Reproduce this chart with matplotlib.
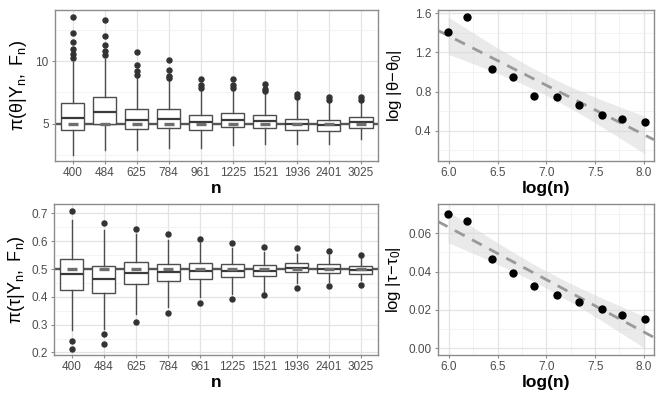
import numpy as np
import matplotlib
matplotlib.use("Agg")
from matplotlib import pyplot as plt, rcParams

params = {
    'font.family': ['Liberation Sans', 'DejaVu Sans'],
    'mathtext.fontset': 'custom',
    'mathtext.rm': 'Liberation Sans',
    'mathtext.it': 'Liberation Sans:italic',
    'mathtext.bf': 'Liberation Sans:bold',
}
rcParams.update(params)

# sample sizes
n_labels = ['400', '484', '625', '784', '961', '1225', '1521', '1936', '2401', '3025']
log_n = [5.99, 6.18, 6.44, 6.66, 6.87, 7.11, 7.33, 7.57, 7.78, 8.01]

# theta boxplots
theta0 = 5.0
th_q1 = [4.50, 5.00, 4.58, 4.71, 4.50, 4.74, 4.68, 4.50, 4.47, 4.71]
th_med = [5.50, 5.95, 5.34, 5.40, 5.13, 5.34, 5.24, 4.97, 4.89, 5.19]
th_q3 = [6.69, 7.14, 6.22, 6.16, 5.74, 5.90, 5.74, 5.42, 5.34, 5.56]
th_lo = [2.51, 2.90, 2.90, 3.10, 3.10, 3.30, 3.40, 3.39, 3.39, 3.84]
th_hi = [9.92, 10.19, 8.73, 8.47, 7.72, 7.67, 7.41, 6.93, 6.72, 6.72]
th_out = [[10.24, 10.58, 10.98, 11.51, 12.25, 13.49],
          [10.45, 10.77, 11.30, 11.96, 13.23],
          [8.86, 9.21, 9.71, 10.71],
          [8.68, 8.84, 9.26, 10.05],
          [7.88, 8.07, 8.60],
          [7.88, 8.07, 8.55],
          [7.62, 7.80, 8.20],
          [7.14, 7.41],
          [6.88, 7.14],
          [6.88, 7.14]]

# tau boxplots
tau0 = 0.5
ta_q1 = [0.423, 0.415, 0.448, 0.457, 0.466, 0.470, 0.474, 0.488, 0.487, 0.484]
ta_med = [0.481, 0.464, 0.487, 0.490, 0.494, 0.494, 0.494, 0.505, 0.502, 0.496]
ta_q3 = [0.536, 0.512, 0.524, 0.520, 0.522, 0.518, 0.513, 0.522, 0.517, 0.510]
ta_lo = [0.281, 0.285, 0.340, 0.365, 0.400, 0.410, 0.418, 0.450, 0.454, 0.460]
ta_hi = [0.676, 0.640, 0.625, 0.604, 0.592, 0.574, 0.560, 0.556, 0.550, 0.544]
ta_out = [[0.709, 0.243, 0.212],
          [0.667, 0.265, 0.230],
          [0.644, 0.309],
          [0.625, 0.343],
          [0.609, 0.379],
          [0.592, 0.393],
          [0.579, 0.406],
          [0.577, 0.433],
          [0.566, 0.440],
          [0.552, 0.444]]

# log errors
err_theta = [1.409, 1.559, 1.027, 0.945, 0.751, 0.744, 0.662, 0.557, 0.523, 0.489]
err_tau = [0.0699, 0.0664, 0.0466, 0.0393, 0.0323, 0.0280, 0.0242, 0.0203, 0.0176, 0.0151]

frame_col = '#8c8c8c'
grid_major = '#e3e3e3'
grid_minor = '#efefef'
tick_col = '#4d4d4d'
box_col = '#4d4d4d'


def style_axes(ax):
    for s in ax.spines.values():
        s.set_color(frame_col)
        s.set_linewidth(1.0)
    ax.tick_params(axis='both', which='major', colors=frame_col, labelcolor=tick_col,
                   labelsize=8.5, length=2.5, width=0.8, pad=2)
    ax.tick_params(axis='both', which='minor', length=0)
    ax.grid(True, which='major', color=grid_major, lw=0.9, zorder=0)
    ax.grid(True, which='minor', color=grid_minor, lw=0.5, zorder=0)
    ax.set_axisbelow(True)


def boxpanel(ax, q1, med, q3, lo, hi, out, truth):
    stats = []
    for i in range(len(q1)):
        stats.append(dict(med=med[i], q1=q1[i], q3=q3[i], whislo=lo[i], whishi=hi[i],
                          fliers=out[i], label=n_labels[i]))
    pos = np.arange(1, len(q1) + 1)
    ax.axhline(truth, color='#555555', lw=1.7, zorder=1)
    ax.bxp(stats, positions=pos, widths=0.72, showcaps=False, patch_artist=True,
           boxprops=dict(facecolor='white', edgecolor=box_col, lw=1.0),
           medianprops=dict(color='#3a3a3a', lw=1.6),
           whiskerprops=dict(color=box_col, lw=1.0),
           flierprops=dict(marker='o', markerfacecolor='#333333', markeredgecolor='#333333',
                           markersize=3.6),
           zorder=2)
    ax.plot(pos, [truth] * len(pos), ls='none', marker='_', color='#6e6e6e',
            markersize=7.5, mew=2.4, zorder=4)
    ax.set_xlim(0.45, 10.53)
    ax.set_xticks(pos)
    ax.set_xticklabels(n_labels)
    ax.set_xlabel('n', fontsize=12.5, fontweight='bold', labelpad=1)


def fitpanel(ax, y):
    x = np.array(log_n)
    y = np.array(y)
    b, a = np.polyfit(x, y, 1)
    resid = y - (a + b * x)
    s = np.sqrt(np.sum(resid ** 2) / (len(x) - 2))
    sxx = np.sum((x - x.mean()) ** 2)
    xs = np.linspace(x.min(), x.max(), 80)
    se = s * np.sqrt(1 / len(x) + (xs - x.mean()) ** 2 / sxx)
    t = 2.306
    ax.fill_between(xs, a + b * xs - t * se, a + b * xs + t * se, color='#d9d9d9',
                    alpha=0.55, lw=0, zorder=1)
    xl = np.array([5.884, 8.105])
    ax.plot(xl, a + b * xl, ls=(0, (4, 3)), color='#999999', lw=2.0, zorder=2)
    ax.scatter(x, y, s=36, color='black', zorder=3, lw=0)
    ax.set_xlim(5.884, 8.105)
    ax.set_xticks([6.0, 6.5, 7.0, 7.5, 8.0])
    ax.set_xticks([6.25, 6.75, 7.25, 7.75], minor=True)
    ax.set_xlabel('log(n)', fontsize=12.5, fontweight='bold', labelpad=1)


fig = plt.figure(figsize=(6.64, 3.99), dpi=100)

ax1 = fig.add_axes([0.0828, 0.5965, 0.4864, 0.3784])
style_axes(ax1)
boxpanel(ax1, th_q1, th_med, th_q3, th_lo, th_hi, th_out, theta0)
ax1.set_ylim(2.06, 14.05)
ax1.set_yticks([5, 10])
ax1.set_yticks([2.5, 7.5, 12.5], minor=True)
ax1.set_ylabel(r'$\mathrm{\pi(\theta|Y_n,\ F_n)}$', fontsize=13, labelpad=5)

ax2 = fig.add_axes([0.0813, 0.1103, 0.4879, 0.3784])
style_axes(ax2)
boxpanel(ax2, ta_q1, ta_med, ta_q3, ta_lo, ta_hi, ta_out, tau0)
ax2.set_ylim(0.191, 0.734)
ax2.set_yticks([0.2, 0.3, 0.4, 0.5, 0.6, 0.7])
ax2.set_yticks([0.25, 0.35, 0.45, 0.55, 0.65], minor=True)
ax2.set_ylabel(r'$\mathrm{\pi(\tau|Y_n,\ F_n)}$', fontsize=13, labelpad=3)

ax3 = fig.add_axes([0.6592, 0.5965, 0.3258, 0.3784])
style_axes(ax3)
fitpanel(ax3, err_theta)
ax3.set_ylim(0.089, 1.634)
ax3.set_yticks([0.4, 0.8, 1.2, 1.6])
ax3.set_yticks([0.2, 0.6, 1.0, 1.4], minor=True)
ax3.set_ylabel(r'log $\mathrm{|\theta\!-\!\theta_0|}$', fontsize=12, labelpad=8)

ax4 = fig.add_axes([0.6592, 0.1103, 0.3258, 0.3784])
style_axes(ax4)
fitpanel(ax4, err_tau)
ax4.set_ylim(-0.0035, 0.0753)
ax4.set_yticks([0.0, 0.02, 0.04, 0.06])
ax4.set_yticks([0.01, 0.03, 0.05, 0.07], minor=True)
ax4.set_yticklabels(['0.00', '0.02', '0.04', '0.06'])
ax4.set_ylabel(r'log $\mathrm{|\tau\!-\!\tau_0|}$', fontsize=12, labelpad=4)

fig.savefig('out.png', dpi=100)
